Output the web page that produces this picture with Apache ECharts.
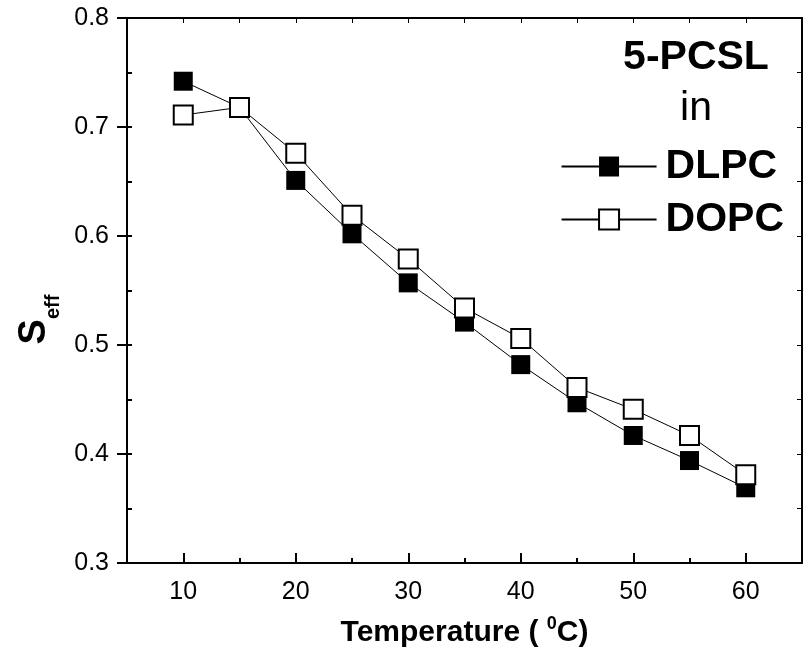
<!DOCTYPE html>
<html>
<head>
    <meta charset="UTF-8">
    <title>Seff vs Temperature</title>
    <script src="https://cdn.jsdelivr.net/npm/echarts@6/dist/echarts.min.js"></script>
    <style type="text/css">
        *{padding:0;margin:0}
        body{background:#fff}
        #chart{width:808px;height:649px}
    </style>
</head>
<body>
<div id="chart"></div>
<script type="text/javascript">
    // temperatures (C)
    var temps = [10, 15, 20, 25, 30, 35, 40, 45, 50, 55, 60];
    // S_eff values
    var dlpc = [0.742, 0.718, 0.651, 0.602, 0.557, 0.521, 0.482, 0.447, 0.417, 0.394, 0.369];
    var dopc = [0.711, 0.718, 0.676, 0.619, 0.579, 0.534, 0.506, 0.461, 0.441, 0.417, 0.381];
    // ticks
    var xMajor = [10, 20, 30, 40, 50, 60];
    var xMinor = [15, 25, 35, 45, 55];
    var yMajor = [0.3, 0.4, 0.5, 0.6, 0.7, 0.8];
    var yMinor = [0.35, 0.45, 0.55, 0.65, 0.75];

    var font = 'Liberation Sans, Arial, sans-serif';
    var black = '#000';

    function pairs(ys){
        return temps.map(function(t, i){ return [t, ys[i]]; });
    }

    var option = {
        animation: false,
        backgroundColor: '#fff',
        textStyle: {fontFamily: font, color: black},
        title: {
            text: '5-PCSL',
            subtext: 'in',
            left: 691,
            top: 32,
            textAlign: 'center',
            itemGap: 10,
            textStyle: {fontFamily: font, fontSize: 41, fontWeight: 'bold', color: black},
            subtextStyle: {fontFamily: font, fontSize: 41, color: black}
        },
        legend: {
            orient: 'vertical',
            right: 19,
            top: 141,
            itemWidth: 95,
            itemHeight: 25,
            itemGap: 12,
            data: ['DLPC', 'DOPC'],
            textStyle: {fontFamily: font, fontSize: 41, fontWeight: 'bold', color: black, padding: [0, 0, 0, 4]}
        },
        grid: {left: 127, right: 6, top: 18, bottom: 86, containLabel: false, outerBoundsMode: 'none'},
        xAxis: [
            {
                type: 'value', position: 'bottom', min: 5, max: 65,
                name: 'Temperature ( {sup|0}C)',
                nameLocation: 'middle', nameGap: 52,
                nameTextStyle: {
                    fontFamily: font, fontSize: 30, fontWeight: 'bold', color: black, lineHeight: 36,
                    rich: {sup: {fontFamily: font, fontSize: 18, fontWeight: 'bold', color: black, verticalAlign: 'top', lineHeight: 36}}
                },
                axisLine: {lineStyle: {color: black, width: 2}},
                axisTick: {inside: true, length: 10, lineStyle: {color: black, width: 2}, customValues: xMajor},
                axisLabel: {customValues: xMajor, fontFamily: font, fontSize: 25, color: black, margin: 17},
                splitLine: {show: false}
            },
            {
                type: 'value', position: 'bottom', min: 5, max: 65,
                axisLine: {show: false},
                axisTick: {inside: true, length: 5, lineStyle: {color: black, width: 2}, customValues: xMinor},
                axisLabel: {show: false},
                splitLine: {show: false}
            },
            {
                type: 'value', position: 'top', min: 5, max: 65,
                axisLine: {lineStyle: {color: black, width: 2}},
                axisTick: {inside: true, length: 5, lineStyle: {color: black, width: 1}, customValues: xMajor.concat(xMinor)},
                axisLabel: {show: false},
                splitLine: {show: false}
            }
        ],
        yAxis: [
            {
                type: 'value', position: 'left', min: 0.3, max: 0.8,
                name: '{s|S}{sub|eff}',
                nameLocation: 'middle', nameRotate: 90, nameGap: 62,
                nameTextStyle: {
                    padding: [0, 58, 0, 0],
                    rich: {
                        s: {fontFamily: font, fontSize: 38, fontWeight: 'bold', color: black, lineHeight: 38,
                            verticalAlign: 'top'},
                        sub: {fontFamily: font, fontSize: 20, fontWeight: 'bold', color: black, lineHeight: 48,
                            verticalAlign: 'bottom'}
                    }
                },
                axisLine: {lineStyle: {color: black, width: 2}},
                axisTick: {inside: false, length: 10, lineStyle: {color: black, width: 2}, customValues: yMajor},
                axisLabel: {customValues: yMajor, fontFamily: font, fontSize: 25, color: black, margin: 18,
                    formatter: function(v){ return v.toFixed(1); }},
                splitLine: {show: false}
            },
            {
                type: 'value', position: 'left', min: 0.3, max: 0.8,
                axisLine: {show: false},
                axisTick: {inside: true, length: 5, lineStyle: {color: black, width: 2}, customValues: yMajor.concat(yMinor)},
                axisLabel: {show: false},
                splitLine: {show: false}
            },
            {
                type: 'value', position: 'right', min: 0.3, max: 0.8,
                axisLine: {lineStyle: {color: black, width: 2}},
                axisTick: {inside: true, length: 5, lineStyle: {color: black, width: 1}, customValues: yMajor.concat(yMinor)},
                axisLabel: {show: false},
                splitLine: {show: false}
            }
        ],
        series: [
            {
                name: 'DLPC',
                type: 'line',
                data: pairs(dlpc),
                symbol: 'rect',
                symbolSize: 19,
                itemStyle: {color: black},
                lineStyle: {color: black, width: 1},
                z: 2
            },
            {
                name: 'DOPC',
                type: 'line',
                data: pairs(dopc),
                symbol: 'rect',
                symbolSize: 19,
                itemStyle: {color: '#fff', borderColor: black, borderWidth: 2},
                lineStyle: {color: black, width: 1},
                z: 3
            }
        ]
    };

    var chart = echarts.init(document.getElementById('chart'));
    chart.setOption(option);
</script>
</body>
</html>
